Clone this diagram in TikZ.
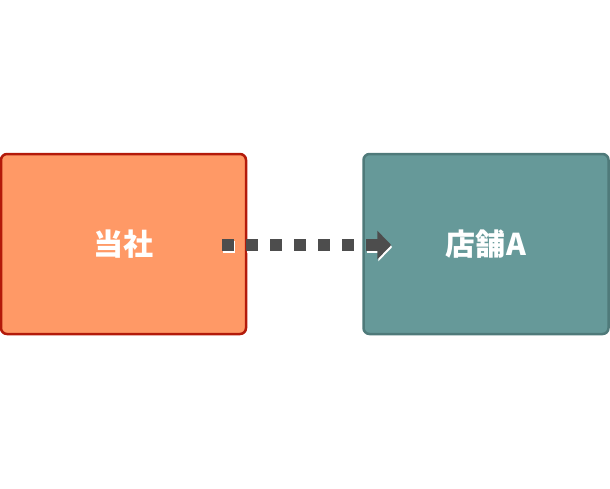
\documentclass[tikz,border=0pt]{standalone}
\usepackage{fontspec}
\newfontfamily\cjk{Noto Sans CJK JP}
\usetikzlibrary{arrows.meta}
\definecolor{ourfill}{HTML}{FF9966}
\definecolor{ourline}{HTML}{B31A0A}
\definecolor{shopfill}{HTML}{669999}
\definecolor{shopline}{HTML}{4F7A7A}
\definecolor{flowgray}{HTML}{4D4D4D}
\begin{document}
\begin{tikzpicture}[
    x=1pt, y=-1pt,
    every node/.style={inner sep=0pt, font=\cjk\bfseries\fontsize{30}{33}\selectfont, text=white},
    party/.style={rounded corners=6pt, line width=2.5pt, minimum width=245pt, minimum height=180pt},
    flow/.style={line width=12pt, dash pattern=on 12pt off 12pt, -{Triangle[length=14pt,width=28pt]}}
]
\useasboundingbox (0,0) rectangle (610,488);
\node[party, draw=ourline, fill=ourfill] (ours) at (123.5,244) {当社};
\node[party, draw=shopline, fill=shopfill] (shop) at (486,244) {店舗\kern1.5pt A};
\draw[flow, white, transform canvas={xshift=1pt, yshift=-2pt}]
    ([xshift=-25pt, yshift=-1pt]ours.east) -- ([xshift=29pt, yshift=-1pt]shop.west);
\draw[flow, flowgray]
    ([xshift=-25pt, yshift=-1pt]ours.east) -- ([xshift=29pt, yshift=-1pt]shop.west);
\end{tikzpicture}
\end{document}
